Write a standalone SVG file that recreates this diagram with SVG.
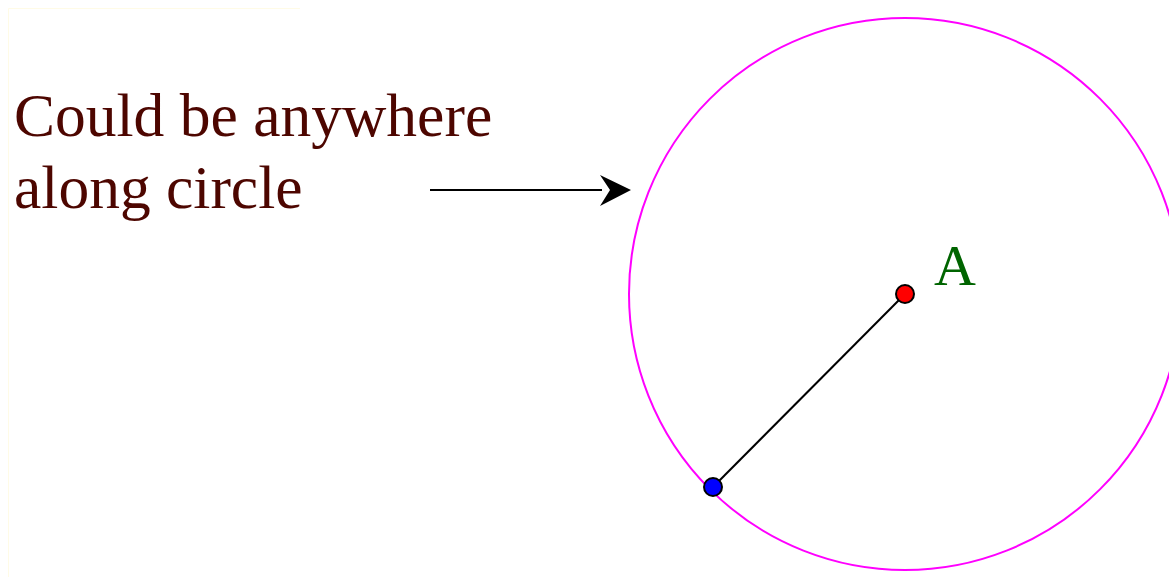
<svg xmlns="http://www.w3.org/2000/svg" width="1169" height="577" viewBox="0 0 1169 577">
<defs>
<style>
.lbl{font-family:"Liberation Serif","Times New Roman",serif;font-size:61.5px;fill:#4d0600}
.pt{stroke:#000;stroke-width:2}
</style>
</defs>
<rect width="1169" height="577" fill="#fff"/>
<path d="M8.5,580 V8.5 H300" fill="none" stroke="#fffbe6" stroke-width="1"/>
<g id="circle"><circle cx="905" cy="294" r="276" fill="none" stroke="#ff00ff" stroke-width="2"/></g>
<g id="label"><text class="lbl" x="14" y="136">Could be anywhere</text><text class="lbl" x="14" y="208">along circle</text></g>
<g id="connectors">
<line x1="430" y1="190" x2="602" y2="190" stroke="#000" stroke-width="2"/>
<path d="M600,175 L631,190 L600,206 L610,190 Z" fill="#000"/>
<line x1="905" y1="294" x2="713" y2="487" stroke="#000" stroke-width="2"/>
</g>
<g id="A"><circle class="pt" cx="905" cy="294" r="9" fill="#ff0000"/><text x="934" y="285" font-family="Liberation Serif, serif" font-size="58" fill="#006400">A</text></g>
<g id="B"><circle class="pt" cx="713" cy="487" r="9" fill="#0000ff"/></g>
</svg>
